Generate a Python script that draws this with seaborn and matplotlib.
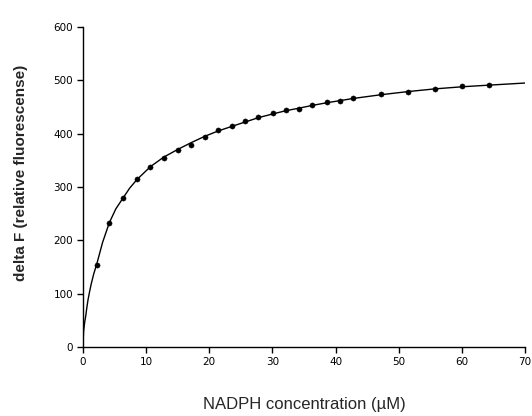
import pandas as pd
import matplotlib
matplotlib.use("Agg")
import matplotlib.pyplot as plt
import seaborn as sns

# Measured titration points
nadph_um = [2.17, 4.17, 6.38, 8.55, 10.66, 12.78, 15.09, 17.1, 19.27, 21.38,
            23.65, 25.7, 27.76, 30.04, 32.1, 34.26, 36.3, 38.6, 40.7, 42.76,
            47.15, 51.5, 55.7, 60.07, 64.25]
delta_f = [154, 233, 280, 315, 338, 355, 370, 379, 394, 407,
           414, 424, 432, 439, 444, 447, 454, 459, 462, 466,
           474, 479, 484, 489, 491]

# Fitted saturation curve, sampled along the concentration range
curve_x = [0, 0.05, 0.1, 0.2, 0.3, 0.42, 0.6, 0.79, 1.05, 1.3, 1.7, 2.17,
           3.1, 4.17, 5.2, 6.38, 7.4, 8.55, 10.66, 12.78, 15.09, 17.1,
           19.27, 21.38, 23.65, 25.7, 27.76, 30.04, 32.1, 34.26, 36.3,
           38.6, 40.7, 42.76, 47.15, 51.5, 55.7, 60.07, 64.25, 70]
curve_y = [0, 18, 30, 40, 49, 57, 73, 88, 104, 118, 137, 155,
           196, 233, 259, 280, 298, 314, 338, 356, 371, 383,
           395, 405, 414, 422, 430, 437, 443, 448, 453,
           458, 462, 466, 473, 479, 484, 488, 491, 495]

x_ticks = [0, 10, 20, 30, 40, 50, 60, 70]
y_ticks = [0, 100, 200, 300, 400, 500, 600]

sns.set_style("ticks")
plt.rcParams["font.family"] = ["Liberation Sans", "DejaVu Sans"]

points = pd.DataFrame({"x": nadph_um, "y": delta_f})
fit = pd.DataFrame({"x": curve_x, "y": curve_y})

fig = plt.figure(figsize=(5.32, 4.16), dpi=100)
ax = fig.add_axes([0.156, 0.166, 0.831, 0.769])

sns.lineplot(data=fit, x="x", y="y", ax=ax, color="black", linewidth=1.0,
             sort=False)
sns.scatterplot(data=points, x="x", y="y", ax=ax, color="black", s=14,
                edgecolor="black", linewidth=0.3, zorder=3)

ax.set_xlim(0, 70)
ax.set_ylim(0, 600)
ax.set_xticks(x_ticks)
ax.set_yticks(y_ticks)
ax.tick_params(axis="both", direction="out", length=4, width=1,
               labelsize=7.5, colors="black", pad=3)
for lab in ax.get_xticklabels() + ax.get_yticklabels():
    lab.set_fontfamily("DejaVu Sans")
for s in ["top", "right"]:
    ax.spines[s].set_visible(False)
for s in ["left", "bottom"]:
    ax.spines[s].set_linewidth(1.0)
    ax.spines[s].set_color("black")

ax.set_xlabel("NADPH concentration (µM)", fontsize=12)
ax.set_ylabel("delta F (relative fluorescense)", fontsize=11,
              fontweight="bold")
# Label placement in axes coordinates
ax.xaxis.set_label_coords(0.50, -0.155)
ax.yaxis.set_label_coords(-0.125, 0.545)

fig.savefig("out.png", dpi=100)
